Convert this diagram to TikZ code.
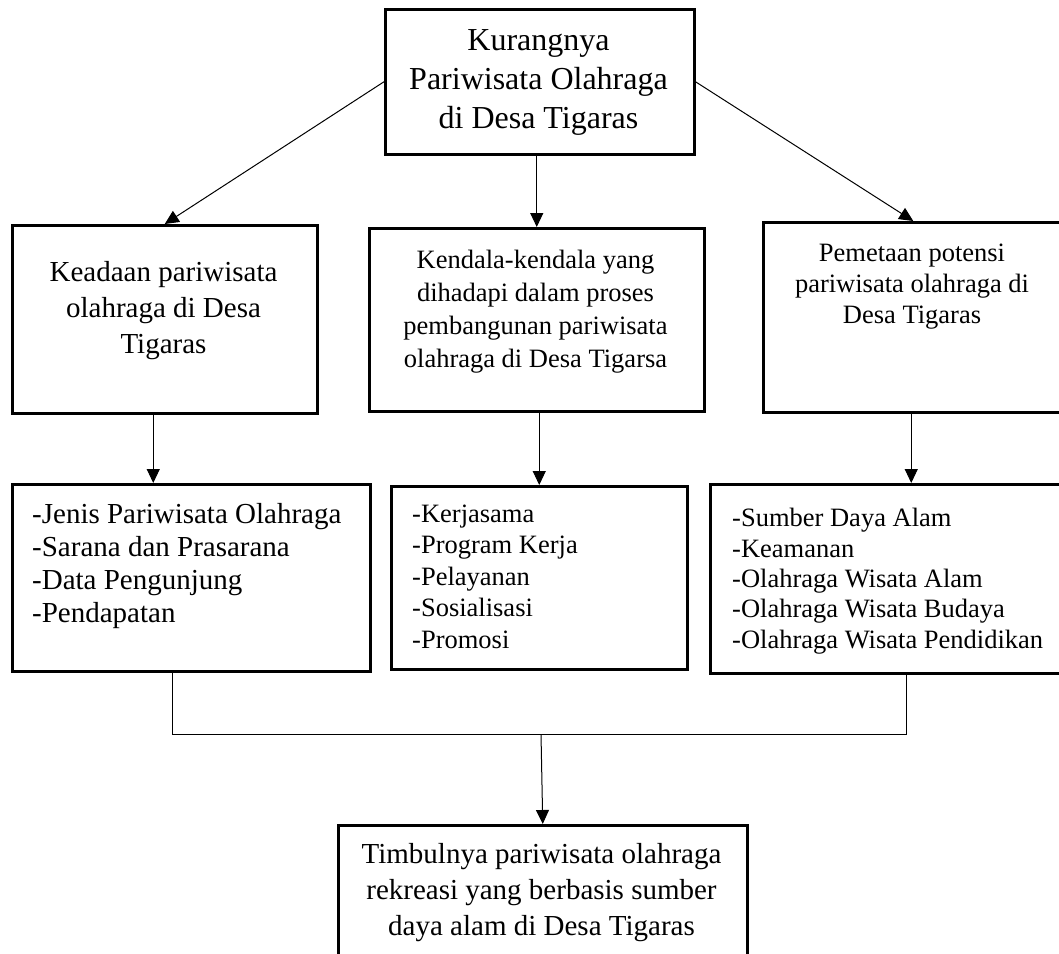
\documentclass[tikz,border=0pt]{standalone}
\usepackage{fontspec}
\setmainfont{Liberation Serif}
\usetikzlibrary{arrows.meta}

\tikzset{
  kotak/.style={draw, line width=2.5pt, inner sep=0pt, anchor=north west},
  judul/.style={inner sep=0pt, align=center, anchor=base},
  daftar/.style={inner sep=0pt, align=left, anchor=base west},
  garis/.style={line width=1pt},
  panah/.style={garis, -{Triangle[length=14pt,width=13pt]}}
}

\begin{document}
\begin{tikzpicture}[x=1pt, y=-1pt]
  \clip (0,0) rectangle (1059,953);
  % kotak
  \node[kotak, minimum width=309pt, minimum height=145pt] (atas) at (384,8) {};
  \node[kotak, minimum width=305pt, minimum height=188pt] (kiri) at (11,224) {};
  \node[kotak, minimum width=335pt, minimum height=183pt] (tengah) at (368,227) {};
  \node[kotak, minimum width=300pt, minimum height=190pt] (kanan) at (762,221) {};
  \node[kotak, minimum width=358pt, minimum height=187pt] (daftarkiri) at (11,483) {};
  \node[kotak, minimum width=296pt, minimum height=183pt] (daftartengah) at (390,485) {};
  \node[kotak, minimum width=356pt, minimum height=189pt] (daftarkanan) at (709,483) {};
  \node[kotak, minimum width=409pt, minimum height=140pt] (hasil) at (337,824) {};
  % teks (base = baris terakhir)
  \node[judul, font=\fontsize{32}{39}\selectfont] (tatas) at (538.5,128)
    {Kurangnya\\Pariwisata Olahraga\\di Desa Tigaras};
  \node[judul, font=\fontsize{29}{36}\selectfont] (tkiri) at (163.5,353)
    {Keadaan pariwisata\\olahraga di Desa\\Tigaras};
  \node[judul, font=\fontsize{26.5}{33}\selectfont] (ttengah) at (535.5,367)
    {Kendala-kendala yang\\dihadapi dalam proses\\pembangunan pariwisata\\olahraga di Desa Tigarsa};
  \node[judul, font=\fontsize{26.5}{31}\selectfont] (tkanan) at (912,323)
    {Pemetaan potensi\\pariwisata olahraga di\\Desa Tigaras};
  \node[daftar, font=\fontsize{29}{33}\selectfont] (tdaftarkiri) at (32,622)
    {-Jenis Pariwisata Olahraga\\-Sarana dan Prasarana\\-Data Pengunjung\\-Pendapatan};
  \node[daftar, font=\fontsize{26.5}{31.5}\selectfont] (tdaftartengah) at (412,648)
    {-Kerjasama\\-Program Kerja\\-Pelayanan\\-Sosialisasi\\-Promosi};
  \node[daftar, font=\fontsize{26.5}{30.3}\selectfont] (tdaftarkanan) at (732,648)
    {-Sumber Daya Alam\\-Keamanan\\-Olahraga Wisata Alam\\-Olahraga Wisata Budaya\\-Olahraga Wisata Pendidikan};
  \node[judul, font=\fontsize{29}{36}\selectfont] (thasil) at (541.5,935)
    {Timbulnya pariwisata olahraga\\rekreasi yang berbasis sumber\\daya alam di Desa Tigaras};
  % titik bantu
  \coordinate (kiribawah) at (172,734);
  \coordinate (kananbawah) at (906,734);
  \coordinate (gabung) at (541,734);
  % panah
  \draw[panah] (atas.west) -- (kiri.north);
  \draw[panah] (atas.south -| tengah.north) -- (tengah.north);
  \draw[panah] (atas.east) -- (kanan.north);
  \draw[panah] ([xshift=-11.5pt]kiri.south) -- ([xshift=-11.5pt]kiri.south |- daftarkiri.north);
  \draw[panah] (tengah.south -| daftartengah.north) -- (daftartengah.north);
  \draw[panah] ([xshift=-2pt]kanan.south) -- ([xshift=-2pt]kanan.south |- daftarkanan.north);
  \draw[garis] (daftarkiri.south -| kiribawah) -- (kiribawah) -- (kananbawah) -- (daftarkanan.south -| kananbawah);
  \draw[panah] (gabung) -- (hasil.north);
\end{tikzpicture}
\end{document}
